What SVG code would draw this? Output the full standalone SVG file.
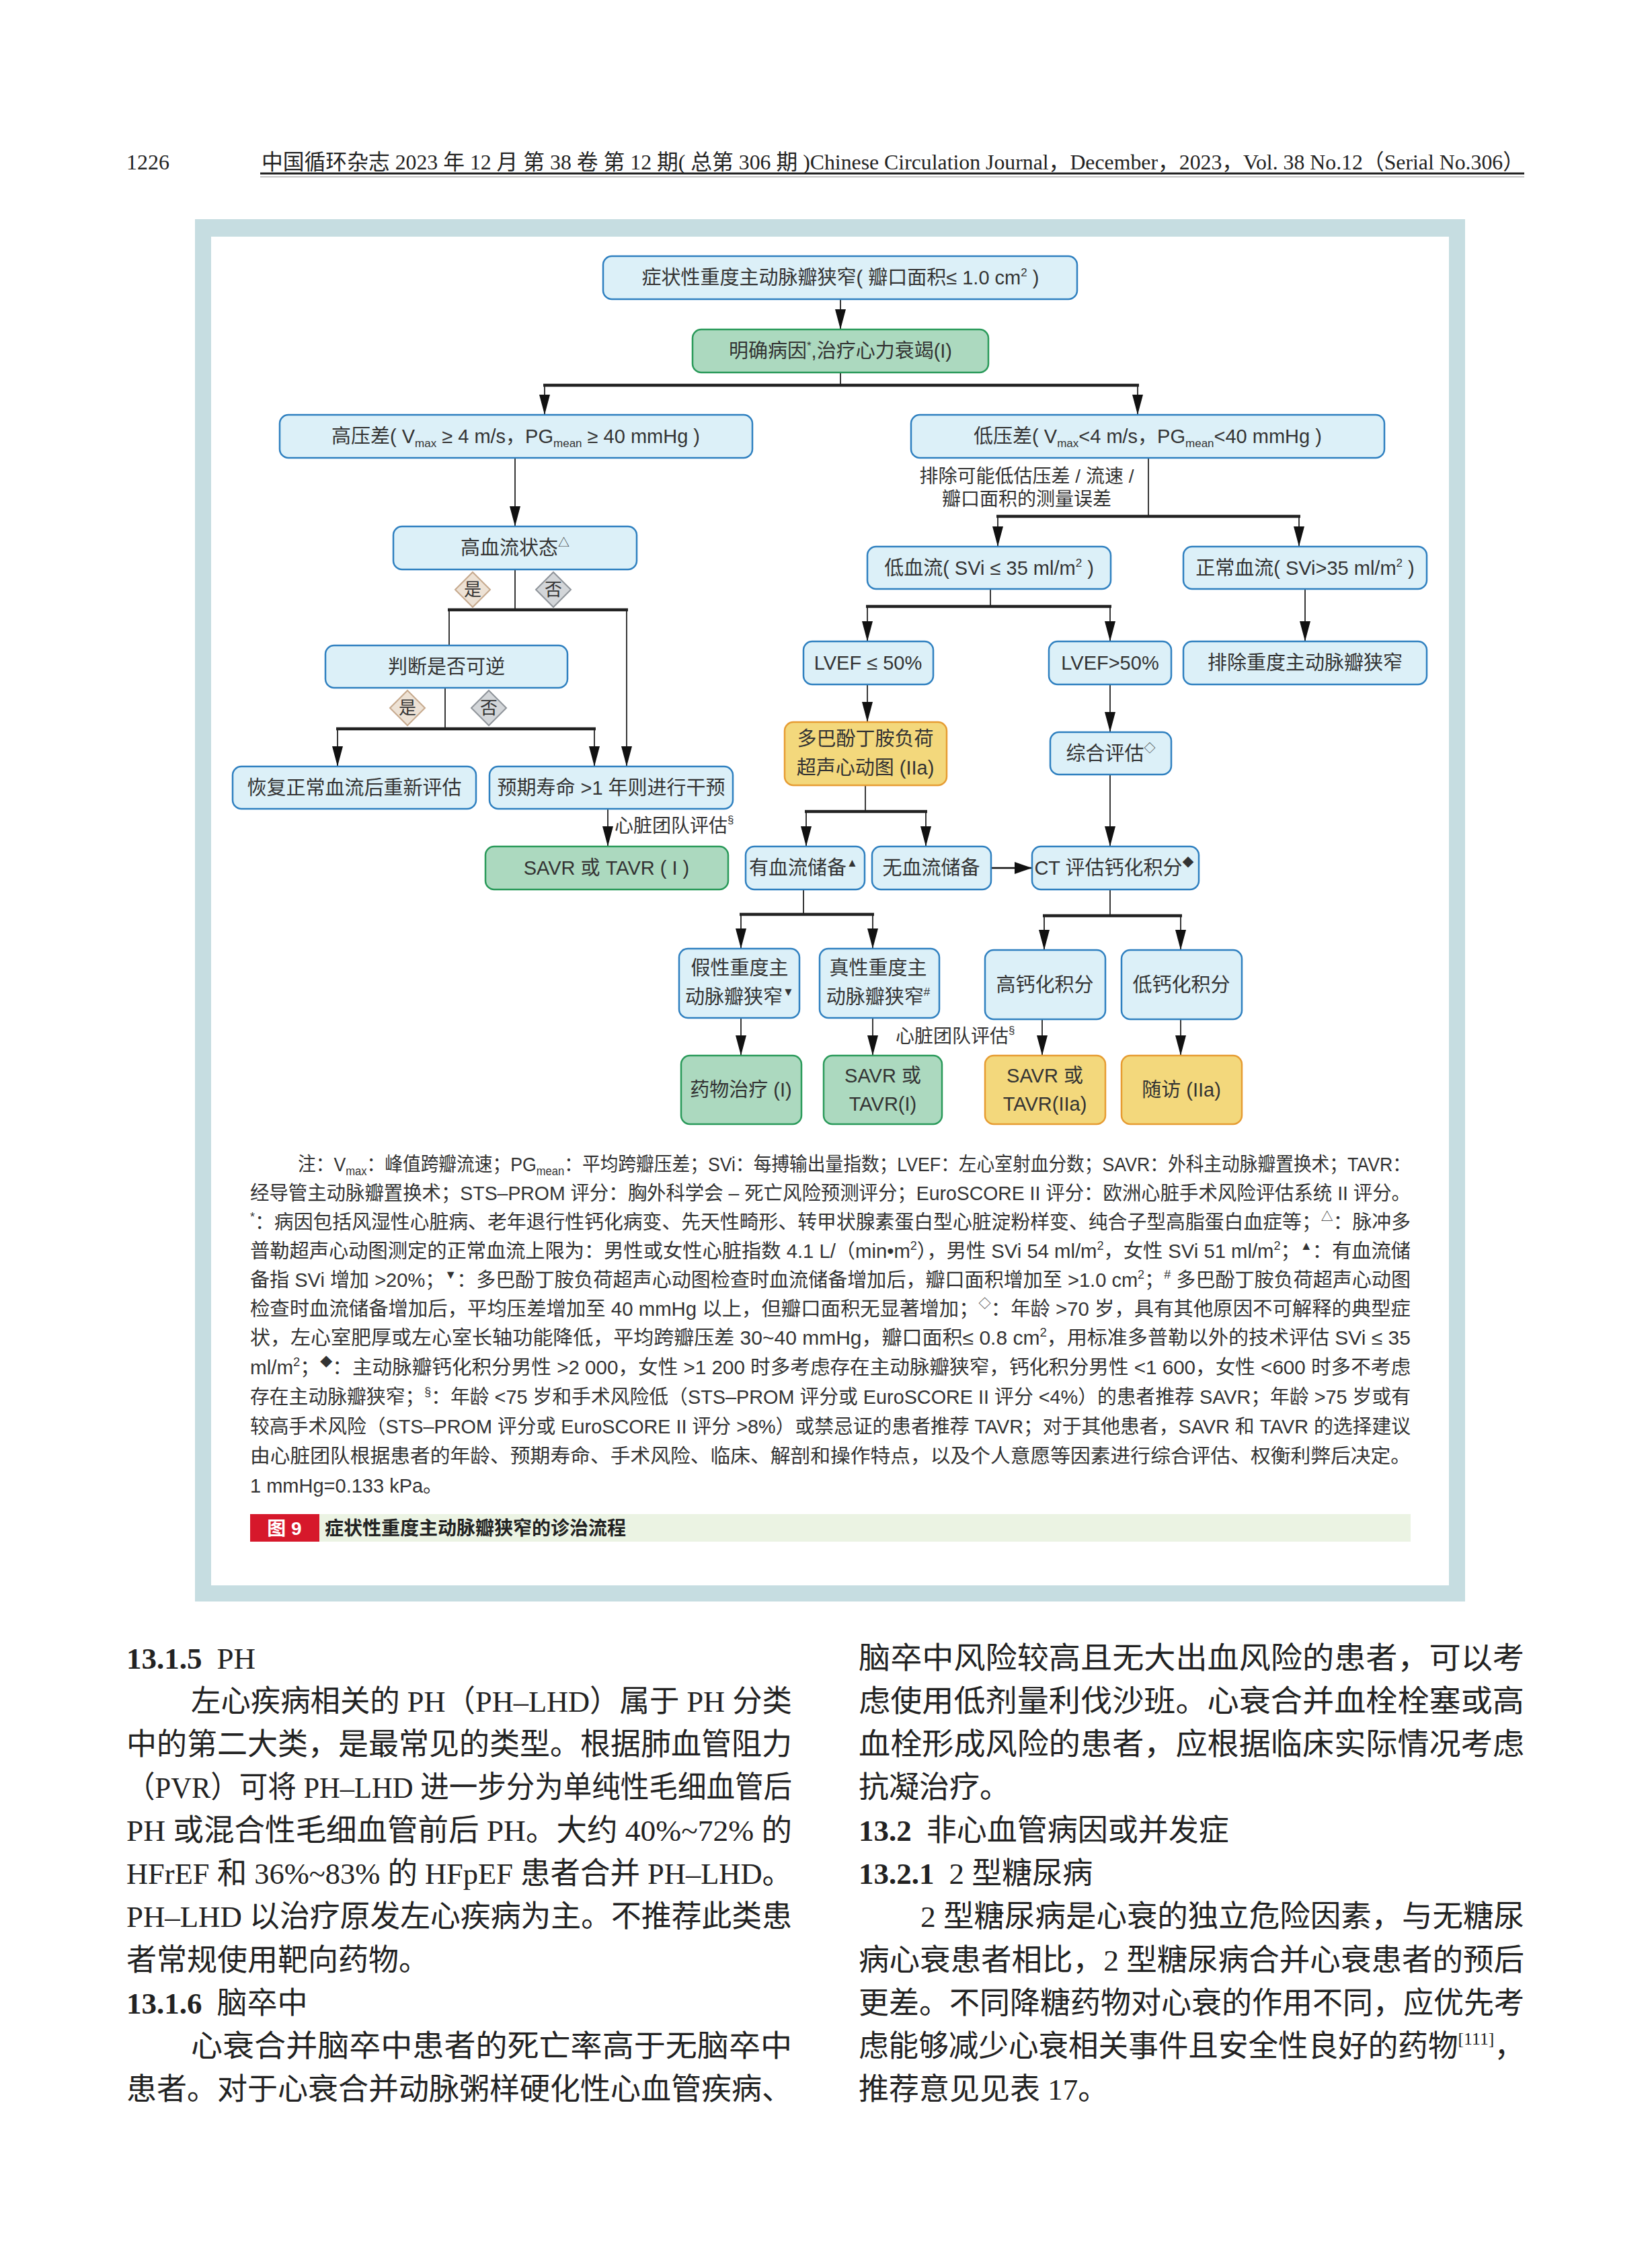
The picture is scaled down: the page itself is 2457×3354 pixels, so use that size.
<svg xmlns="http://www.w3.org/2000/svg" width="2457" height="3354" viewBox="0 0 2457 3354">
<defs>
<style>
.nb{fill:#dcf0f8;stroke:#2f80c0;stroke-width:2.5}
.ng{fill:#acd9bf;stroke:#2a9a5a;stroke-width:2.5}
.ny{fill:#f3d87c;stroke:#e69c32;stroke-width:2.5}
.t{font-family:"Liberation Sans","Noto Sans CJK SC",sans-serif;font-size:29px;fill:#333;text-anchor:middle}
.lb{font-family:"Liberation Sans","Noto Sans CJK SC",sans-serif;font-size:28px;fill:#333}
.ln{stroke:#222;stroke-width:1.8;fill:none}
.bar{stroke:#222;stroke-width:4.5;fill:none}
.note{font-family:"Liberation Sans","Noto Sans CJK SC",sans-serif;font-size:29px;fill:#333}
.body{font-family:"Liberation Serif","Noto Sans CJK SC",serif;font-size:45px;fill:#222}
.hd{font-family:"Liberation Serif","Noto Sans CJK SC",serif;font-size:32px;fill:#222}
.dy{fill:#ede2d5;stroke:#c6a98d;stroke-width:2}
.dn{fill:#d3d6d9;stroke:#8f949a;stroke-width:2}
.dt{font-family:"Liberation Sans","Noto Sans CJK SC",sans-serif;font-size:26px;fill:#333;text-anchor:middle}
</style>
<marker id="ar" viewBox="0 0 30 16" refX="30" refY="8" markerWidth="30" markerHeight="16" markerUnits="userSpaceOnUse" orient="auto">
<path d="M0,0 L30,8 L0,16 Z" fill="#111"/>
</marker>
<marker id="arB" viewBox="0 0 26 18" refX="26" refY="9" markerWidth="26" markerHeight="18" markerUnits="userSpaceOnUse" orient="auto">
<path d="M0,0 L26,9 L0,18 Z" fill="#111"/>
</marker>
</defs>
<rect x="0" y="0" width="2457" height="3354" fill="#fff"/>

<!-- page header -->
<g id="header">
<text class="hd" x="188" y="252" font-size="33">1226</text>
<text class="hd" x="389" y="252" textLength="1878" lengthAdjust="spacingAndGlyphs">中国循环杂志 2023 年 12 月 第 38 卷 第 12 期( 总第 306 期 )Chinese Circulation Journal，December，2023，Vol. 38 No.12（Serial No.306）</text>
<line x1="387" y1="258" x2="2267" y2="258" stroke="#222" stroke-width="3"/>
<line x1="387" y1="263" x2="2267" y2="263" stroke="#888" stroke-width="1"/>
</g>

<!-- figure frame -->
<g id="frame">
<rect x="290" y="326" width="1889" height="2056" fill="#c6dde1"/>
<rect x="314" y="352" width="1841" height="2006" fill="#fff"/>
</g>

<!-- connectors -->
<g id="connectors">
<path class="ln" d="M1250,445 V490" marker-end="url(#ar)"/>
<path class="ln" d="M1250,554 V573"/>
<path class="bar" d="M808,573 H1694"/>
<path class="ln" d="M810,573 V617" marker-end="url(#ar)"/>
<path class="ln" d="M1692,573 V617" marker-end="url(#ar)"/>
<path class="ln" d="M766,681 V783" marker-end="url(#ar)"/>
<path class="ln" d="M1708,681 V768"/>
<path class="bar" d="M1482,768 H1934"/>
<path class="ln" d="M1484,768 V813" marker-end="url(#ar)"/>
<path class="ln" d="M1932,768 V813" marker-end="url(#ar)"/>
<path class="ln" d="M766,847 V907"/>
<path class="bar" d="M666,907 H934"/>
<path class="ln" d="M668,907 V960"/>
<path class="ln" d="M932,907 V1140" marker-end="url(#ar)"/>
<path class="ln" d="M662,1023 V1084"/>
<path class="bar" d="M500,1084 H886"/>
<path class="ln" d="M502,1084 V1140" marker-end="url(#ar)"/>
<path class="ln" d="M884,1084 V1140" marker-end="url(#ar)"/>
<path class="ln" d="M904,1203 V1259" marker-end="url(#ar)"/>
<path class="ln" d="M1473,876 V902"/>
<path class="bar" d="M1288,902 H1653"/>
<path class="ln" d="M1290,902 V954" marker-end="url(#ar)"/>
<path class="ln" d="M1651,902 V954" marker-end="url(#ar)"/>
<path class="ln" d="M1941,876 V954" marker-end="url(#ar)"/>
<path class="ln" d="M1290,1018 V1074" marker-end="url(#ar)"/>
<path class="ln" d="M1651,1018 V1089" marker-end="url(#ar)"/>
<path class="ln" d="M1287,1168 V1207"/>
<path class="bar" d="M1197,1207 H1379"/>
<path class="ln" d="M1199,1207 V1259" marker-end="url(#ar)"/>
<path class="ln" d="M1377,1207 V1259" marker-end="url(#ar)"/>
<path class="ln" d="M1651,1152 V1259" marker-end="url(#ar)"/>
<path d="M1474,1291 H1535" stroke="#111" stroke-width="2.5" fill="none" marker-end="url(#arB)"/>
<path class="ln" d="M1195,1323 V1360"/>
<path class="bar" d="M1100,1360 H1300"/>
<path class="ln" d="M1102,1360 V1411" marker-end="url(#ar)"/>
<path class="ln" d="M1298,1360 V1411" marker-end="url(#ar)"/>
<path class="ln" d="M1651,1323 V1362"/>
<path class="bar" d="M1551,1362 H1758"/>
<path class="ln" d="M1553,1362 V1413" marker-end="url(#ar)"/>
<path class="ln" d="M1756,1362 V1413" marker-end="url(#ar)"/>
<path class="ln" d="M1102,1514 V1570" marker-end="url(#ar)"/>
<path class="ln" d="M1298,1514 V1570" marker-end="url(#ar)"/>
<path class="ln" d="M1550,1516 V1570" marker-end="url(#ar)"/>
<path class="ln" d="M1756,1516 V1570" marker-end="url(#ar)"/>
<text class="lb" x="1527" y="718" text-anchor="middle">排除可能低估压差 / 流速 /</text>
<text class="lb" x="1527" y="752" text-anchor="middle">瓣口面积的测量误差</text>
<text class="lb" x="914" y="1238">心脏团队评估<tspan font-size="17" dy="-13">§</tspan></text>
<text class="lb" x="1332" y="1551">心脏团队评估<tspan font-size="17" dy="-13">§</tspan></text>
</g>

<!-- decision diamonds -->
<g id="d-yes1"><path class="dy" d="M703,851 L729,877 L703,903 L677,877 Z"/><text class="dt" x="703" y="886">是</text></g>
<g id="d-no1"><path class="dn" d="M823,851 L849,877 L823,903 L797,877 Z"/><text class="dt" x="823" y="886">否</text></g>
<g id="d-yes2"><path class="dy" d="M606,1027 L632,1053 L606,1079 L580,1053 Z"/><text class="dt" x="606" y="1062">是</text></g>
<g id="d-no2"><path class="dn" d="M727,1027 L753,1053 L727,1079 L701,1053 Z"/><text class="dt" x="727" y="1062">否</text></g>

<!-- nodes -->
<g id="n1"><rect class="nb" x="897" y="381" width="705" height="64" rx="13"/>
<text class="t" x="1250" y="423">症状性重度主动脉瓣狭窄( 瓣口面积≤ 1.0 cm<tspan font-size="17" dy="-12">2</tspan><tspan dy="12"> )</tspan></text></g>

<g id="n2"><rect class="ng" x="1030" y="490" width="440" height="64" rx="13"/>
<text class="t" x="1250" y="532">明确病因<tspan font-size="17" dy="-12">*</tspan><tspan dy="12">,治疗心力衰竭(I)</tspan></text></g>

<g id="n3"><rect class="nb" x="416" y="617" width="703" height="64" rx="13"/>
<text class="t" x="767" y="659">高压差( V<tspan font-size="17" dy="6">max</tspan><tspan dy="-6"> ≥ 4 m/s，PG</tspan><tspan font-size="17" dy="6">mean</tspan><tspan dy="-6"> ≥ 40 mmHg )</tspan></text></g>

<g id="n4"><rect class="nb" x="1355" y="617" width="704" height="64" rx="13"/>
<text class="t" x="1707" y="659">低压差( V<tspan font-size="17" dy="6">max</tspan><tspan dy="-6">&lt;4 m/s，PG</tspan><tspan font-size="17" dy="6">mean</tspan><tspan dy="-6">&lt;40 mmHg )</tspan></text></g>

<g id="n5"><rect class="nb" x="585" y="783" width="362" height="64" rx="13"/>
<text class="t" x="766" y="825">高血流状态<tspan font-size="17" dy="-12">△</tspan></text></g>

<g id="n6"><rect class="nb" x="484" y="960" width="360" height="63" rx="13"/>
<text class="t" x="664" y="1002">判断是否可逆</text></g>

<g id="n7"><rect class="nb" x="1290" y="813" width="362" height="63" rx="13"/>
<text class="t" x="1471" y="855">低血流( SVi ≤ 35 ml/m<tspan font-size="17" dy="-12">2</tspan><tspan dy="12"> )</tspan></text></g>

<g id="n8"><rect class="nb" x="1760" y="813" width="362" height="63" rx="13"/>
<text class="t" x="1941" y="855">正常血流( SVi&gt;35 ml/m<tspan font-size="17" dy="-12">2</tspan><tspan dy="12"> )</tspan></text></g>

<g id="n9"><rect class="nb" x="1195" y="954" width="193" height="64" rx="13"/>
<text class="t" x="1291" y="996">LVEF ≤ 50%</text></g>

<g id="n10"><rect class="nb" x="1560" y="954" width="182" height="64" rx="13"/>
<text class="t" x="1651" y="996">LVEF&gt;50%</text></g>

<g id="n11"><rect class="nb" x="1760" y="954" width="362" height="64" rx="13"/>
<text class="t" x="1941" y="996">排除重度主动脉瓣狭窄</text></g>

<g id="n12"><rect class="ny" x="1167" y="1074" width="241" height="94" rx="13"/>
<text class="t" x="1287" y="1109">多巴酚丁胺负荷</text><text class="t" x="1287" y="1152">超声心动图 (IIa)</text></g>

<g id="n13"><rect class="nb" x="1562" y="1089" width="180" height="63" rx="13"/>
<text class="t" x="1652" y="1131">综合评估<tspan font-size="17" dy="-12">◇</tspan></text></g>

<g id="n14"><rect class="nb" x="346" y="1140" width="362" height="63" rx="13"/>
<text class="t" x="527" y="1182">恢复正常血流后重新评估</text></g>

<g id="n15"><rect class="nb" x="728" y="1140" width="362" height="63" rx="13"/>
<text class="t" x="909" y="1182">预期寿命 &gt;1 年则进行干预</text></g>

<g id="n16"><rect class="ng" x="722" y="1259" width="361" height="64" rx="13"/>
<text class="t" x="902" y="1301">SAVR 或 TAVR ( I )</text></g>

<g id="n17"><rect class="nb" x="1109" y="1259" width="177" height="64" rx="13"/>
<text class="t" x="1195" y="1301">有血流储备<tspan font-size="17" dy="-12">▲</tspan></text></g>

<g id="n18"><rect class="nb" x="1297" y="1259" width="177" height="64" rx="13"/>
<text class="t" x="1385" y="1301">无血流储备</text></g>

<g id="n19"><rect class="nb" x="1535" y="1259" width="248" height="64" rx="13"/>
<text class="t" x="1657" y="1301">CT 评估钙化积分<tspan font-size="17" dy="-12">◆</tspan></text></g>

<g id="n20"><rect class="nb" x="1010" y="1411" width="179" height="103" rx="13"/>
<text class="t" x="1100" y="1450">假性重度主</text><text class="t" x="1100" y="1493">动脉瓣狭窄<tspan font-size="17" dy="-12">▼</tspan></text></g>

<g id="n21"><rect class="nb" x="1219" y="1411" width="178" height="103" rx="13"/>
<text class="t" x="1306" y="1450">真性重度主</text><text class="t" x="1306" y="1493">动脉瓣狭窄<tspan font-size="17" dy="-12">#</tspan></text></g>

<g id="n22"><rect class="nb" x="1465" y="1413" width="179" height="103" rx="13"/>
<text class="t" x="1554" y="1475">高钙化积分</text></g>

<g id="n23"><rect class="nb" x="1668" y="1413" width="179" height="103" rx="13"/>
<text class="t" x="1757" y="1475">低钙化积分</text></g>

<g id="n24"><rect class="ng" x="1013" y="1570" width="179" height="102" rx="13"/>
<text class="t" x="1102" y="1631">药物治疗 (I)</text></g>

<g id="n25"><rect class="ng" x="1225" y="1570" width="176" height="102" rx="13"/>
<text class="t" x="1313" y="1610">SAVR 或</text><text class="t" x="1313" y="1652">TAVR(I)</text></g>

<g id="n26"><rect class="ny" x="1465" y="1570" width="179" height="102" rx="13"/>
<text class="t" x="1554" y="1610">SAVR 或</text><text class="t" x="1554" y="1652">TAVR(IIa)</text></g>

<g id="n27"><rect class="ny" x="1668" y="1570" width="179" height="102" rx="13"/>
<text class="t" x="1757" y="1631">随访 (IIa)</text></g>

<!-- notes -->
<g id="notes">
<text class="note" x="443" y="1742" textLength="1655" lengthAdjust="spacingAndGlyphs">注：V<tspan font-size="18" dy="6">max</tspan><tspan dy="-6">：峰值跨瓣流速；PG</tspan><tspan font-size="18" dy="6">mean</tspan><tspan dy="-6">：平均跨瓣压差；SVi：每搏输出量指数；LVEF：左心室射血分数；SAVR：外科主动脉瓣置换术；TAVR：</tspan></text>
<text class="note" x="372" y="1785" textLength="1726" lengthAdjust="spacingAndGlyphs">经导管主动脉瓣置换术；STS–PROM 评分：胸外科学会 – 死亡风险预测评分；EuroSCORE II 评分：欧洲心脏手术风险评估系统 II 评分。</text>
<text class="note" x="372" y="1828" textLength="1726" lengthAdjust="spacingAndGlyphs"><tspan font-size="18" dy="-12">*</tspan><tspan dy="12">：病因包括风湿性心脏病、老年退行性钙化病变、先天性畸形、转甲状腺素蛋白型心脏淀粉样变、纯合子型高脂蛋白血症等；</tspan><tspan font-size="18" dy="-12">△</tspan><tspan dy="12">：脉冲多</tspan></text>
<text class="note" x="372" y="1871" textLength="1726" lengthAdjust="spacingAndGlyphs">普勒超声心动图测定的正常血流上限为：男性或女性心脏指数 4.1 L/（min•m<tspan font-size="18" dy="-12">2</tspan><tspan dy="12">），男性 SVi 54 ml/m</tspan><tspan font-size="18" dy="-12">2</tspan><tspan dy="12">，女性 SVi 51 ml/m</tspan><tspan font-size="18" dy="-12">2</tspan><tspan dy="12">；</tspan><tspan font-size="18" dy="-12">▲</tspan><tspan dy="12">：有血流储</tspan></text>
<text class="note" x="372" y="1914" textLength="1726" lengthAdjust="spacingAndGlyphs">备指 SVi 增加 &gt;20%；<tspan font-size="18" dy="-12">▼</tspan><tspan dy="12">：多巴酚丁胺负荷超声心动图检查时血流储备增加后，瓣口面积增加至 &gt;1.0 cm</tspan><tspan font-size="18" dy="-12">2</tspan><tspan dy="12">；</tspan><tspan font-size="18" dy="-12">#</tspan><tspan dy="12"> 多巴酚丁胺负荷超声心动图</tspan></text>
<text class="note" x="372" y="1957" textLength="1726" lengthAdjust="spacingAndGlyphs">检查时血流储备增加后，平均压差增加至 40 mmHg 以上，但瓣口面积无显著增加；<tspan font-size="18" dy="-12">◇</tspan><tspan dy="12">：年龄 &gt;70 岁，具有其他原因不可解释的典型症</tspan></text>
<text class="note" x="372" y="2000" textLength="1726" lengthAdjust="spacingAndGlyphs">状，左心室肥厚或左心室长轴功能降低，平均跨瓣压差 30~40 mmHg，瓣口面积≤ 0.8 cm<tspan font-size="18" dy="-12">2</tspan><tspan dy="12">，用标准多普勒以外的技术评估 SVi ≤ 35</tspan></text>
<text class="note" x="372" y="2044" textLength="1726" lengthAdjust="spacingAndGlyphs">ml/m<tspan font-size="18" dy="-12">2</tspan><tspan dy="12">；</tspan><tspan font-size="18" dy="-12">◆</tspan><tspan dy="12">：主动脉瓣钙化积分男性 &gt;2 000，女性 &gt;1 200 时多考虑存在主动脉瓣狭窄，钙化积分男性 &lt;1 600，女性 &lt;600 时多不考虑</tspan></text>
<text class="note" x="372" y="2088" textLength="1726" lengthAdjust="spacingAndGlyphs">存在主动脉瓣狭窄；<tspan font-size="18" dy="-12">§</tspan><tspan dy="12">：年龄 &lt;75 岁和手术风险低（STS–PROM 评分或 EuroSCORE II 评分 &lt;4%）的患者推荐 SAVR；年龄 &gt;75 岁或有</tspan></text>
<text class="note" x="372" y="2132" textLength="1726" lengthAdjust="spacingAndGlyphs">较高手术风险（STS–PROM 评分或 EuroSCORE II 评分 &gt;8%）或禁忌证的患者推荐 TAVR；对于其他患者，SAVR 和 TAVR 的选择建议</text>
<text class="note" x="372" y="2176" textLength="1726" lengthAdjust="spacingAndGlyphs">由心脏团队根据患者的年龄、预期寿命、手术风险、临床、解剖和操作特点，以及个人意愿等因素进行综合评估、权衡利弊后决定。</text>
<text class="note" x="372" y="2220">1 mmHg=0.133 kPa。</text>
</g>

<!-- caption -->
<g id="caption">
<rect x="372" y="2252" width="1726" height="41" fill="#ebf3e3"/>
<rect x="372" y="2252" width="103" height="41" fill="#d6182b"/>
<text x="423" y="2283" font-family="'Liberation Sans','Noto Sans CJK SC',sans-serif" font-size="28" font-weight="bold" fill="#fff" text-anchor="middle">图 9</text>
<text x="483" y="2283" font-family="'Liberation Sans','Noto Sans CJK SC',sans-serif" font-size="28" font-weight="bold" fill="#222">症状性重度主动脉瓣狭窄的诊治流程</text>
</g>

<!-- body text left column -->
<g id="body-left">
<text class="body" x="188" y="2482"><tspan font-weight="bold">13.1.5</tspan><tspan dx="22">PH</tspan></text>
<text class="body" x="284" y="2546" textLength="894" lengthAdjust="spacingAndGlyphs">左心疾病相关的 PH（PH–LHD）属于 PH 分类</text>
<text class="body" x="188" y="2610" textLength="990" lengthAdjust="spacingAndGlyphs">中的第二大类，是最常见的类型。根据肺血管阻力</text>
<text class="body" x="188" y="2674" textLength="990" lengthAdjust="spacingAndGlyphs">（PVR）可将 PH–LHD 进一步分为单纯性毛细血管后</text>
<text class="body" x="188" y="2738" textLength="990" lengthAdjust="spacingAndGlyphs">PH 或混合性毛细血管前后 PH。大约 40%~72% 的</text>
<text class="body" x="188" y="2802" textLength="990" lengthAdjust="spacingAndGlyphs">HFrEF 和 36%~83% 的 HFpEF 患者合并 PH–LHD。</text>
<text class="body" x="188" y="2866" textLength="990" lengthAdjust="spacingAndGlyphs">PH–LHD 以治疗原发左心疾病为主。不推荐此类患</text>
<text class="body" x="188" y="2931">者常规使用靶向药物。</text>
<text class="body" x="188" y="2995"><tspan font-weight="bold">13.1.6</tspan><tspan dx="22">脑卒中</tspan></text>
<text class="body" x="284" y="3059" textLength="894" lengthAdjust="spacingAndGlyphs">心衰合并脑卒中患者的死亡率高于无脑卒中</text>
<text class="body" x="188" y="3123" textLength="990" lengthAdjust="spacingAndGlyphs">患者。对于心衰合并动脉粥样硬化性心血管疾病、</text>
</g>

<!-- body text right column -->
<g id="body-right">
<text class="body" x="1277" y="2482" textLength="990" lengthAdjust="spacingAndGlyphs">脑卒中风险较高且无大出血风险的患者，可以考</text>
<text class="body" x="1277" y="2546" textLength="990" lengthAdjust="spacingAndGlyphs">虑使用低剂量利伐沙班。心衰合并血栓栓塞或高</text>
<text class="body" x="1277" y="2610" textLength="990" lengthAdjust="spacingAndGlyphs">血栓形成风险的患者，应根据临床实际情况考虑</text>
<text class="body" x="1277" y="2674">抗凝治疗。</text>
<text class="body" x="1277" y="2738"><tspan font-weight="bold">13.2</tspan><tspan dx="22">非心血管病因或并发症</tspan></text>
<text class="body" x="1277" y="2802"><tspan font-weight="bold">13.2.1</tspan><tspan dx="22">2 型糖尿病</tspan></text>
<text class="body" x="1369" y="2866" textLength="898" lengthAdjust="spacingAndGlyphs">2 型糖尿病是心衰的独立危险因素，与无糖尿</text>
<text class="body" x="1277" y="2931" textLength="990" lengthAdjust="spacingAndGlyphs">病心衰患者相比，2 型糖尿病合并心衰患者的预后</text>
<text class="body" x="1277" y="2995" textLength="990" lengthAdjust="spacingAndGlyphs">更差。不同降糖药物对心衰的作用不同，应优先考</text>
<text class="body" x="1277" y="3059" textLength="990" lengthAdjust="spacingAndGlyphs">虑能够减少心衰相关事件且安全性良好的药物<tspan font-size="26" dy="-18">[111]</tspan><tspan dy="18">，</tspan></text>
<text class="body" x="1277" y="3123">推荐意见见表 17。</text>
</g>
</svg>
